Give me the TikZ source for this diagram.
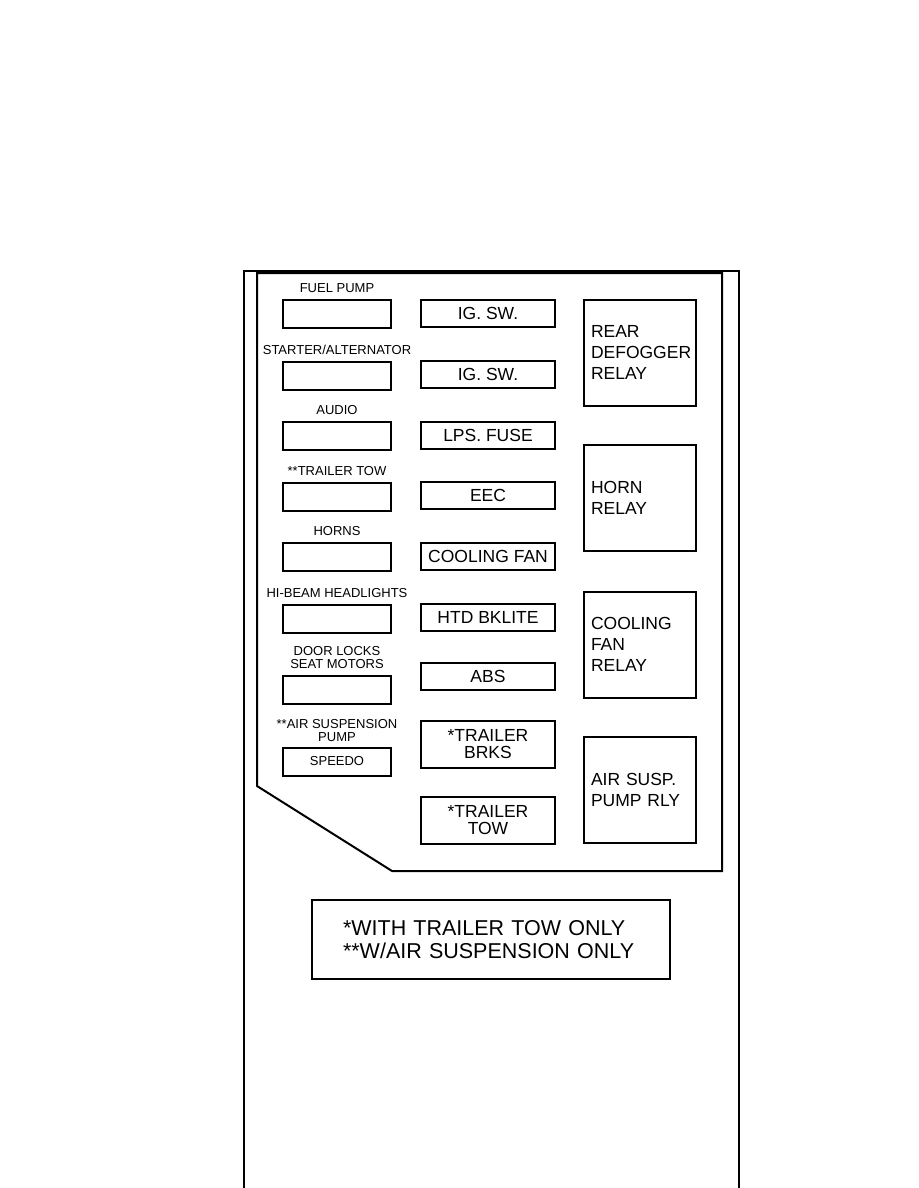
\documentclass[tikz,border=0pt]{standalone}
\usepackage{fontspec}
\setmainfont{Liberation Sans}
\usetikzlibrary{positioning}

\tikzset{
    frameline/.style={line width=1.4pt},
    panelline/.style={line width=2pt, line join=miter},
    fusebox/.style={draw, line width=2pt, minimum width=108pt, minimum height=28pt,
        inner sep=0pt, font=\fontsize{13}{13}\selectfont},
    midbox/.style={draw, line width=2pt, minimum width=134pt, minimum height=27pt,
        inner sep=0pt, align=center, font=\fontsize{17.5}{17}\selectfont},
    relaybox/.style={draw, line width=2pt, text width=98pt, inner xsep=7pt,
        minimum height=106pt, align=left, font=\fontsize{17.5}{21}\selectfont},
    fuselabel/.style={inner sep=0pt, align=center, font=\fontsize{13}{13}\selectfont}
}

\begin{document}
\begin{tikzpicture}[x=1pt, y=-1pt]

\useasboundingbox (0,0) rectangle (918,1188);
\fill[white] (0,0) rectangle (918,1188);

% Page frame
\draw[frameline] (244,1188) -- (244,271) -- (739,271) -- (739,1188);

% Fuse panel outline with cut corner
\draw[panelline] (257,273) -- (722,273) -- (722,871) -- (392,871) -- (257,786) -- cycle;

% Left column: small fuses with labels above
\foreach \y/\lbl [count=\i] in {314/FUEL PUMP, 375.5/{STARTER/ALTERNATOR}, 436/AUDIO,
    496.5/**TRAILER TOW, 557/HORNS, 618.5/HI-BEAM HEADLIGHTS,
    690/{DOOR LOCKS\\SEAT MOTORS}} {
    \node[fusebox] (left\i) at (337,\y) {};
    \node[fuselabel, above=6pt of left\i] (leftlbl\i) {\lbl};
}
\node[fusebox] (speedo) at (337,761.5) {SPEEDO};
\node[fuselabel, above=5pt of speedo] (speedolbl) {**AIR SUSPENSION\\PUMP};

% Middle column: fuses
\foreach \y/\txt [count=\i] in {313.5/IG. SW., 374.5/IG. SW., 435.5/LPS. FUSE,
    495.5/EEC, 556.5/COOLING FAN, 617.5/HTD BKLITE, 676.5/ABS} {
    \node[midbox] (mid\i) at (488,\y) {\txt};
}
\node[midbox, minimum height=47pt] (trlbrks) at (488,744) {*TRAILER\\BRKS};
\node[midbox, minimum height=47pt] (trltow) at (488,820.5) {*TRAILER\\TOW};

% Right column: relays
\node[relaybox] (defogger) at (640,352.5) {REAR\\DEFOGGER\\RELAY};
\node[relaybox] (horn) at (640,497.5) {HORN\\RELAY};
\node[relaybox] (fanrelay) at (640,644.5) {COOLING\\FAN\\RELAY};
\node[relaybox] (airsusp) at (640,789.5) {AIR SUSP.\\PUMP RLY};

% Footnote
\node[draw, line width=1.8pt, text width=296pt, inner xsep=31pt, minimum height=79pt,
    align=left, font=\fontsize{21.5}{23}\selectfont] (notes) at (491,939.5)
    {*WITH TRAILER TOW ONLY\\{}**W/AIR SUSPENSION ONLY};

\end{tikzpicture}
\end{document}
